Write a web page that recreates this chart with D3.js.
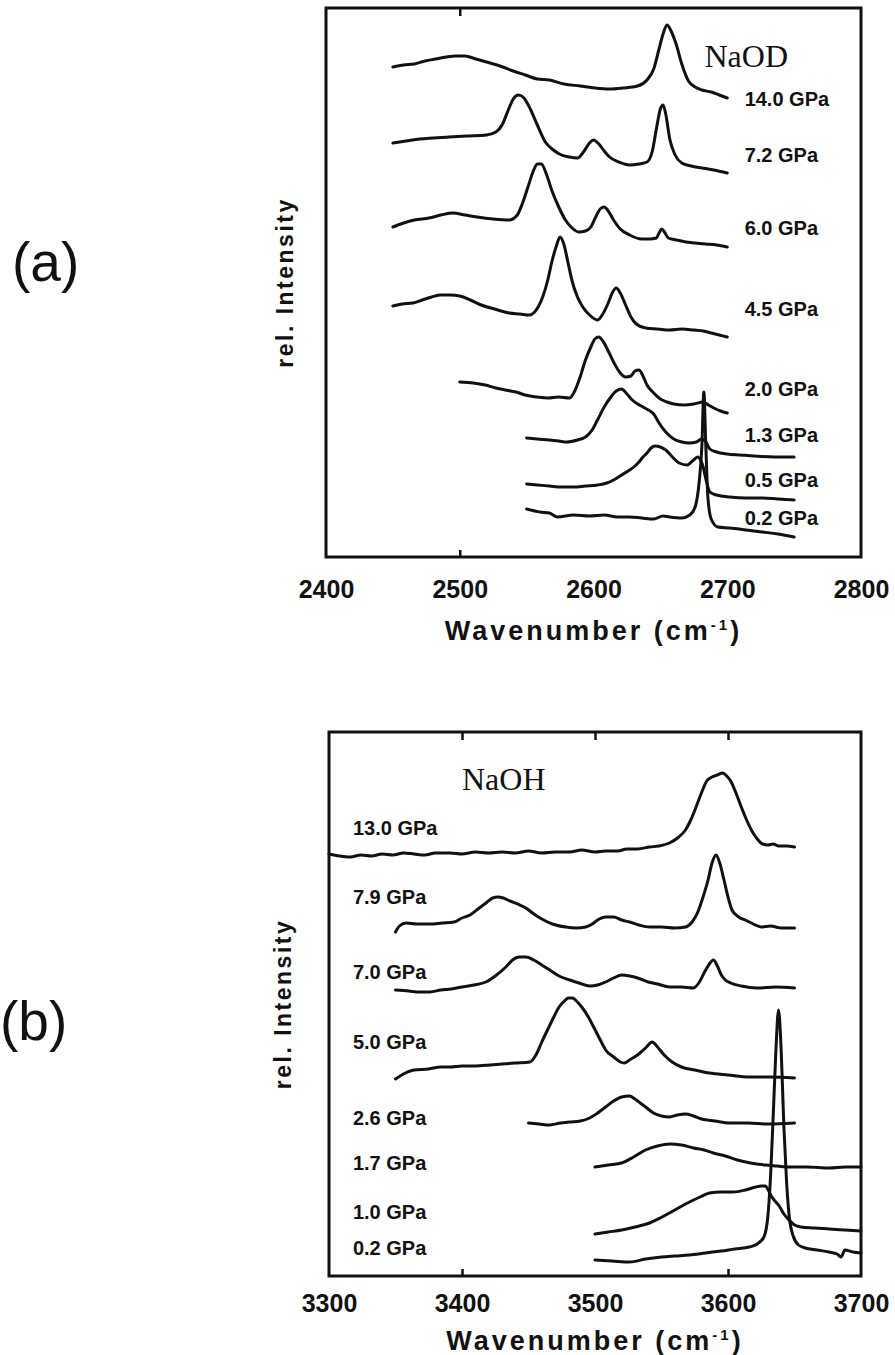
<!DOCTYPE html>
<html>
<head>
<meta charset="utf-8">
<script src="https://cdn.jsdelivr.net/npm/d3@7"></script>
<style>
  body { margin: 0; background: #fff; }
  .lbl { font-family: "Liberation Sans", Arial, sans-serif; font-weight: bold; font-size: 20px; fill: #111; }
  .tick text { font-family: "Liberation Sans", Arial, sans-serif; font-weight: bold; font-size: 25px; fill: #111; }
</style>
</head>
<body>
<svg id="chart" width="895" height="1355"></svg>
<script>
// ---- data: wavenumber (cm-1) vs rel. intensity (arb. units, stacked) ----
const naodTicks = [2400, 2500, 2600, 2700, 2800];
const naohTicks = [3300, 3400, 3500, 3600, 3700];

const naodPressures = ["14.0 GPa", "7.2 GPa", "6.0 GPa", "4.5 GPa", "2.0 GPa", "1.3 GPa", "0.5 GPa", "0.2 GPa"];
const naodLabelLevel = [45.8, 40.2, 32.9, 24.8, 16.8, 12.2, 7.7, 3.9];

const naohPressures = ["13.0 GPa", "7.9 GPa", "7.0 GPa", "5.0 GPa", "2.6 GPa", "1.7 GPa", "1.0 GPa", "0.2 GPa"];
const naohLabelLevel = [44.8, 37.9, 30.4, 23.4, 15.8, 11.3, 6.4, 2.8];

const naod140 = [[2450,49.0],[2458,49.2],[2466,49.3],[2474,49.6],[2482,49.8],[2490,50.0],[2497,50.1],[2504,50.1],[2512,49.8],[2520,49.5],[2530,49.1],[2540,48.6],[2549,48.2],[2558,47.8],[2567,47.7],[2578,47.3],[2590,47.1],[2601,46.9],[2612,46.8],[2622,46.9],[2633,47.1],[2640,47.7],[2645,48.8],[2649,50.8],[2652,52.3],[2655,53.2],[2658,52.6],[2662,51.2],[2666,49.3],[2671,47.6],[2676,47.0],[2681,46.7],[2688,46.5],[2694,46.2],[2700,45.9]];
const naod72 = [[2450,41.4],[2460,41.6],[2470,41.8],[2480,41.9],[2492,42.0],[2505,42.1],[2520,42.2],[2527,42.5],[2532,43.3],[2536,44.6],[2540,45.8],[2544,46.2],[2548,45.9],[2552,45.0],[2558,43.2],[2564,41.5],[2570,40.7],[2576,40.2],[2582,40.0],[2588,39.9],[2593,40.6],[2597,41.4],[2600,41.7],[2604,41.3],[2608,40.6],[2612,40.0],[2619,39.5],[2627,39.2],[2634,39.3],[2640,39.5],[2644,40.6],[2647,42.8],[2650,44.8],[2652,45.2],[2654,44.3],[2657,41.8],[2661,40.2],[2666,39.4],[2673,39.1],[2681,38.9],[2690,38.7],[2700,38.4]];
const naod60 = [[2450,33.0],[2458,33.4],[2466,33.7],[2477,33.9],[2486,34.2],[2495,34.4],[2504,34.2],[2513,34.0],[2525,33.8],[2537,33.7],[2543,34.2],[2547,35.4],[2551,37.0],[2555,38.6],[2558,39.3],[2561,39.3],[2565,38.2],[2569,36.6],[2574,35.0],[2579,33.7],[2584,32.9],[2589,32.5],[2594,32.6],[2598,33.0],[2602,34.1],[2605,34.8],[2608,35.0],[2611,34.6],[2615,33.7],[2620,32.8],[2627,32.2],[2636,31.8],[2642,31.8],[2647,31.9],[2649,32.4],[2651,32.8],[2653,32.5],[2656,31.9],[2662,31.7],[2669,31.5],[2676,31.4],[2684,31.3],[2692,31.2],[2700,31.0]];
const naod45 = [[2450,25.1],[2457,25.3],[2465,25.4],[2472,25.7],[2479,26.0],[2486,26.2],[2493,26.2],[2500,26.1],[2508,25.7],[2516,25.2],[2526,24.8],[2537,24.4],[2545,24.3],[2552,24.2],[2556,24.5],[2559,25.1],[2562,26.0],[2566,27.8],[2569,29.6],[2572,31.0],[2575,32.0],[2578,31.2],[2581,29.4],[2584,27.6],[2588,26.0],[2592,25.0],[2597,24.2],[2603,23.7],[2607,24.3],[2611,25.4],[2614,26.4],[2617,26.9],[2620,26.4],[2624,25.2],[2628,24.0],[2632,23.3],[2639,22.9],[2648,22.8],[2657,22.7],[2666,22.8],[2675,22.7],[2682,22.6],[2688,22.4],[2694,22.2],[2700,22.0]];
const naod20 = [[2500,17.5],[2510,17.4],[2519,17.2],[2527,16.9],[2534,16.7],[2542,16.5],[2549,16.2],[2558,16.0],[2566,15.9],[2574,16.0],[2582,15.9],[2586,16.6],[2590,18.0],[2594,19.7],[2598,21.0],[2601,21.8],[2604,22.0],[2607,21.6],[2611,20.6],[2615,19.5],[2620,18.4],[2624,18.0],[2628,18.1],[2631,18.6],[2634,18.7],[2637,18.1],[2640,17.2],[2645,16.4],[2650,15.8],[2655,15.5],[2660,15.3],[2668,15.2],[2675,15.3],[2682,15.5],[2686,15.2],[2690,14.9],[2695,14.6],[2700,14.4]];
const naod13 = [[2550,11.9],[2558,11.8],[2567,11.7],[2574,11.6],[2580,11.5],[2588,11.7],[2594,12.0],[2599,12.7],[2603,13.7],[2608,15.0],[2613,16.0],[2617,16.6],[2621,16.8],[2625,16.3],[2629,15.7],[2633,15.3],[2637,15.0],[2641,14.7],[2645,14.3],[2649,13.4],[2654,12.5],[2660,11.8],[2666,11.5],[2672,11.4],[2677,11.5],[2681,11.8],[2684,11.5],[2687,10.8],[2692,10.5],[2700,10.3],[2710,10.2],[2720,10.1],[2735,10.0],[2750,10.0]];
const naod05 = [[2550,7.3],[2558,7.2],[2567,7.1],[2576,7.0],[2585,7.0],[2594,7.1],[2603,7.2],[2610,7.4],[2615,7.7],[2621,8.2],[2627,8.7],[2631,9.1],[2634,9.5],[2637,10.0],[2640,10.4],[2643,10.9],[2646,11.1],[2650,11.0],[2654,10.7],[2659,10.0],[2664,9.4],[2670,9.2],[2674,9.6],[2678,10.0],[2680,9.7],[2682,9.0],[2684,7.8],[2687,6.5],[2692,6.2],[2702,6.0],[2714,5.9],[2726,5.9],[2738,5.8],[2750,5.7]];
const naod02 = [[2550,4.8],[2560,4.5],[2567,4.4],[2573,4.0],[2585,4.2],[2597,4.1],[2608,4.2],[2618,4.0],[2627,4.0],[2636,3.9],[2645,3.8],[2652,4.1],[2657,4.0],[2666,3.9],[2672,4.2],[2676,5.0],[2679,7.5],[2681,11.0],[2682.5,16.5],[2684,11.0],[2685.5,6.0],[2688,3.8],[2693,3.0],[2702,2.9],[2714,2.7],[2726,2.5],[2738,2.3],[2750,2.0]];

const naoh130 = [[3300,42.2],[3308,42.0],[3316,41.9],[3324,42.1],[3332,42.0],[3340,42.2],[3348,42.1],[3356,42.3],[3364,42.2],[3372,42.1],[3380,42.3],[3391,42.3],[3400,42.2],[3410,42.4],[3420,42.3],[3430,42.4],[3440,42.3],[3450,42.5],[3460,42.3],[3470,42.4],[3481,42.4],[3490,42.6],[3500,42.4],[3508,42.5],[3517,42.5],[3524,42.7],[3532,42.7],[3541,42.9],[3548,43.0],[3556,43.3],[3562,43.8],[3568,44.6],[3572,45.6],[3576,46.9],[3580,48.3],[3584,49.5],[3588,49.9],[3592,50.1],[3596,50.3],[3599,50.0],[3602,49.5],[3606,48.3],[3610,46.9],[3614,45.6],[3618,44.5],[3622,43.7],[3626,43.2],[3630,43.1],[3634,43.2],[3638,43.0],[3644,43.0],[3650,42.9]];
const naoh79 = [[3350,34.4],[3353,35.0],[3358,35.3],[3366,35.2],[3376,35.2],[3385,35.3],[3394,35.4],[3400,35.8],[3406,36.1],[3412,36.7],[3418,37.3],[3423,37.8],[3427,37.9],[3431,37.8],[3436,37.5],[3442,37.2],[3448,36.8],[3454,36.2],[3460,35.7],[3468,35.2],[3478,34.9],[3486,34.8],[3493,34.9],[3498,35.2],[3502,35.6],[3508,35.9],[3514,35.9],[3520,35.6],[3526,35.4],[3533,35.1],[3541,34.9],[3550,34.9],[3560,34.8],[3568,34.9],[3573,35.4],[3577,36.3],[3581,37.8],[3585,39.6],[3588,41.3],[3591,42.1],[3594,41.2],[3597,39.6],[3600,37.9],[3603,36.6],[3608,35.9],[3613,35.6],[3619,35.2],[3625,34.9],[3632,35.0],[3640,34.8],[3650,34.8]];
const naoh70 = [[3350,28.6],[3360,28.5],[3368,28.4],[3376,28.4],[3384,28.6],[3392,28.7],[3400,28.9],[3409,29.1],[3418,29.4],[3426,30.1],[3433,30.9],[3438,31.6],[3443,31.9],[3448,31.9],[3454,31.6],[3460,31.1],[3466,30.6],[3473,30.0],[3481,29.6],[3488,29.3],[3496,29.0],[3502,29.1],[3508,29.4],[3514,29.8],[3520,30.1],[3526,30.0],[3532,29.8],[3540,29.4],[3547,29.2],[3556,28.9],[3565,28.9],[3574,28.8],[3578,29.3],[3582,30.3],[3586,31.2],[3589,31.6],[3592,31.0],[3595,30.1],[3598,29.6],[3602,29.3],[3610,29.0],[3622,28.8],[3636,28.9],[3650,28.8]];
const naoh50 = [[3350,19.7],[3356,20.2],[3364,20.6],[3375,20.7],[3384,20.9],[3391,20.9],[3400,21.0],[3410,21.0],[3421,21.1],[3430,21.2],[3440,21.3],[3451,21.4],[3456,22.2],[3460,23.4],[3465,24.8],[3469,25.9],[3473,26.9],[3477,27.5],[3480,27.8],[3483,27.8],[3486,27.5],[3490,26.9],[3495,25.9],[3499,24.9],[3504,23.6],[3508,22.6],[3514,21.9],[3519,21.4],[3522,21.3],[3527,21.7],[3532,22.1],[3538,22.8],[3543,23.4],[3547,22.9],[3552,22.1],[3558,21.4],[3565,20.9],[3575,20.6],[3586,20.3],[3600,20.1],[3616,19.9],[3632,19.9],[3650,19.8]];
const naoh26 = [[3450,15.3],[3458,15.2],[3466,15.1],[3474,15.3],[3481,15.4],[3489,15.5],[3496,15.8],[3502,16.3],[3508,16.9],[3514,17.5],[3520,17.9],[3526,18.0],[3530,17.7],[3534,17.3],[3539,16.8],[3544,16.3],[3550,16.0],[3556,15.9],[3562,16.1],[3568,16.2],[3574,16.0],[3580,15.7],[3590,15.5],[3601,15.3],[3615,15.3],[3630,15.2],[3650,15.3]];
const naoh17 = [[3500,10.9],[3510,11.1],[3520,11.3],[3529,11.9],[3538,12.6],[3547,13.0],[3556,13.2],[3565,13.1],[3574,12.8],[3582,12.6],[3589,12.3],[3598,12.0],[3607,11.6],[3617,11.3],[3628,11.1],[3637,11.0],[3646,10.9],[3660,10.9],[3676,10.8],[3688,10.9],[3700,10.9]];
const naoh10 = [[3500,4.2],[3510,4.4],[3520,4.6],[3530,4.9],[3541,5.3],[3549,5.8],[3556,6.3],[3564,6.9],[3571,7.4],[3579,7.9],[3586,8.3],[3595,8.4],[3604,8.4],[3613,8.6],[3621,8.9],[3625,9.0],[3628,9.0],[3631,8.4],[3633,7.9],[3636,7.4],[3639,6.9],[3642,6.2],[3646,5.6],[3650,5.1],[3655,4.9],[3665,4.8],[3676,4.7],[3688,4.6],[3700,4.5]];
const naoh02 = [[3500,1.6],[3513,1.5],[3526,1.4],[3538,1.7],[3550,1.9],[3560,2.0],[3571,2.1],[3583,2.3],[3595,2.5],[3605,2.7],[3616,2.9],[3622,3.2],[3627,3.9],[3630,6.0],[3632,10.0],[3634,16.0],[3636,22.5],[3638,26.6],[3640,22.5],[3642,15.0],[3644,9.5],[3646,6.0],[3649,4.0],[3653,3.1],[3658,2.8],[3667,2.6],[3676,2.4],[3682,2.2],[3685,1.9],[3688,2.6],[3694,2.4],[3700,2.3]];

const naodSpectra = [naod140, naod72, naod60, naod45, naod20, naod13, naod05, naod02];
const naohSpectra = [naoh130, naoh79, naoh70, naoh50, naoh26, naoh17, naoh10, naoh02];

let svg = d3.select("#chart");

function drawPanel(p) {
    let x_scale = d3.scaleLinear().domain(p.xDomain).range([p.left, p.right]);
    let y_scale = d3.scaleLinear().domain(p.yDomain).range([p.bottom, p.top]);
    let g = svg.append("g");

    // frame
    g.append("rect")
        .attr("x", p.left).attr("y", p.top)
        .attr("width", p.right - p.left).attr("height", p.bottom - p.top)
        .attr("fill", "none").attr("stroke", "#111").attr("stroke-width", 3);

    // tick labels
    let ax = g.append("g")
        .attr("transform", `translate(0,${p.bottom})`)
        .call(d3.axisBottom(x_scale).tickValues(p.ticks).tickSize(0).tickPadding(p.tickPad).tickFormat(d3.format("d")));
    ax.select(".domain").remove();

    // small inner ticks
    let tb = g.append("g")
        .attr("transform", `translate(0,${p.bottom})`)
        .call(d3.axisBottom(x_scale).tickValues(p.innerBottom).tickSize(-7).tickFormat(""));
    tb.select(".domain").remove();
    let tt = g.append("g")
        .attr("transform", `translate(0,${p.top})`)
        .call(d3.axisTop(x_scale).tickValues(p.innerTop).tickSize(-8).tickFormat(""));
    tt.select(".domain").remove();
    g.selectAll(".tick line").attr("stroke", "#111").attr("stroke-width", 2.5);

    // spectra
    let line = d3.line()
        .x(d => x_scale(d[0]))
        .y(d => y_scale(d[1]))
        .curve(d3.curveMonotoneX);
    p.spectra.forEach(s => {
        g.append("path")
            .attr("d", line(s))
            .attr("fill", "none")
            .attr("stroke", "#111")
            .attr("stroke-width", 3)
            .attr("stroke-linejoin", "round")
            .attr("stroke-linecap", "round");
    });

    // pressure labels
    p.labels.forEach((t, i) => {
        g.append("text")
            .attr("class", "lbl")
            .attr("x", x_scale(p.labelX))
            .attr("y", y_scale(p.levels[i]))
            .attr("dy", "0.36em")
            .text(t);
    });

    // compound name
    g.append("text")
        .attr("x", x_scale(p.nameAt[0]))
        .attr("y", y_scale(p.nameAt[1]))
        .attr("font-family", "'Liberation Serif', 'Times New Roman', serif")
        .attr("font-size", "32px")
        .attr("fill", "#111")
        .text(p.name);

    // x label
    let xl = g.append("text")
        .attr("x", (p.left + p.right) / 2)
        .attr("y", p.titleY)
        .attr("text-anchor", "middle")
        .attr("font-family", "'Liberation Sans', Arial, sans-serif")
        .attr("font-weight", "bold")
        .attr("font-size", "27px")
        .attr("letter-spacing", "3px")
        .attr("fill", "#111");
    xl.append("tspan").text("Wavenumber (cm");
    xl.append("tspan").attr("font-size", "15px").attr("dy", "-10").text("-1");
    xl.append("tspan").attr("dy", "10").text(")");

    // y label
    g.append("text")
        .attr("transform", `translate(${p.yLabelX},${(p.top + p.bottom) / 2}) rotate(-90)`)
        .attr("text-anchor", "middle")
        .attr("dy", "0.35em")
        .attr("font-family", "'Liberation Sans', Arial, sans-serif")
        .attr("font-weight", "bold")
        .attr("font-size", "23px")
        .attr("letter-spacing", "2.5px")
        .attr("fill", "#111")
        .text("rel. Intensity");

    // panel letter
    g.append("text")
        .attr("x", p.letterX)
        .attr("y", p.letterY)
        .attr("font-family", "'Liberation Sans', Arial, sans-serif")
        .attr("font-size", "55px")
        .attr("fill", "#111")
        .text(p.letter);
}

drawPanel({
    xDomain: [2400, 2800], yDomain: [0, 54.9],
    left: 326, right: 861, top: 8, bottom: 557,
    ticks: naodTicks, innerBottom: [2500], innerTop: [2500], tickPad: 23,
    spectra: naodSpectra, labels: naodPressures, levels: naodLabelLevel, labelX: 2713,
    name: "NaOD", nameAt: [2683, 49.0],
    titleY: 640, yLabelX: 285, letter: "(a)", letterX: 12, letterY: 281
});

drawPanel({
    xDomain: [3300, 3700], yDomain: [0, 54.4],
    left: 329, right: 861, top: 732, bottom: 1276,
    ticks: naohTicks, innerBottom: [3400, 3600], innerTop: [3400, 3500, 3600], tickPad: 18,
    spectra: naohSpectra, labels: naohPressures, levels: naohLabelLevel, labelX: 3318,
    name: "NaOH", nameAt: [3400, 48.6],
    titleY: 1350, yLabelX: 283, letter: "(b)", letterX: 0, letterY: 1040
});
</script>
</body>
</html>
